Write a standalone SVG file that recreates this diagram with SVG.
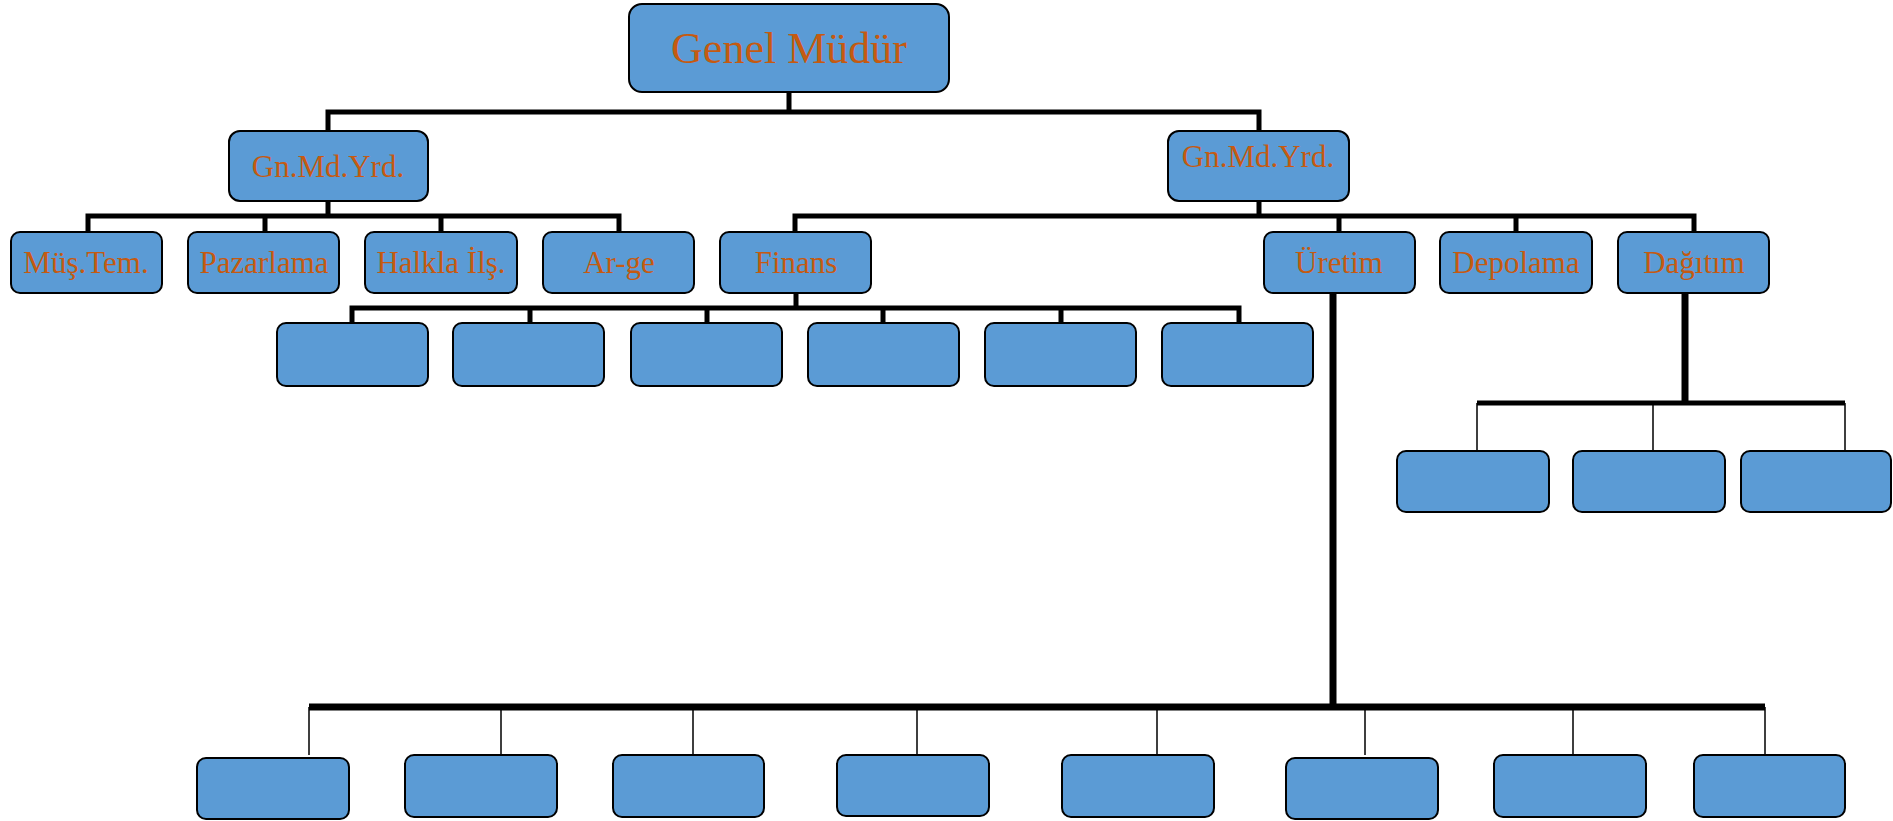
<svg xmlns="http://www.w3.org/2000/svg" width="1893" height="821" viewBox="0 0 1893 821">
  <style>
    .box { fill: #5B9BD5; stroke: #000; stroke-width: 2; }
    .lbl { font-family: "Liberation Serif", "Times New Roman", serif; fill: #C55A11; text-anchor: middle; }
    .big { font-size: 44px; }
    .mid { font-size: 31px; }
    .wire { fill: none; stroke: #000; stroke-linejoin: miter; stroke-linecap: butt; }
    .w5 { stroke-width: 5; }
    .w7 { stroke-width: 7; }
    .thin { stroke-width: 1.5; }
  </style>
  <rect width="1893" height="821" fill="#fff"/>

  <!-- connectors -->
  <g id="connectors">
    <path class="wire w5" d="M789,92 V112 M328,131 V112 H1259 V131"/>
    <path class="wire w5" d="M328,201 V216 M88,232 V216 H619 V232 M265,216 V232 M441,216 V232"/>
    <path class="wire w5" d="M1259,201 V216 M795,232 V216 H1694 V232 M1339,216 V232 M1516,216 V232"/>
    <path class="wire w5" d="M796,293 V308 M352,323 V308 H1239 V323 M530,308 V323 M707,308 V323 M883,308 V323 M1061,308 V323"/>
    <path class="wire w7" d="M1333,293 V707"/>
    <path class="wire w7" d="M309,707 H1765"/>
    <path class="wire thin" d="M309,707 V755 M501,707 V755 M693,707 V755 M917,707 V755 M1157,707 V755 M1365,707 V755 M1573,707 V755 M1765,707 V755"/>
    <path class="wire w7" d="M1685,293 V403"/>
    <path class="wire w5" d="M1477,403 H1845"/>
    <path class="wire thin" d="M1477,403 V451 M1653,403 V451 M1845,403 V451"/>
  </g>

  <!-- top -->
  <g id="genel-mudur">
    <rect class="box" x="629" y="4" width="320" height="88" rx="13"/>
    <text class="lbl big" x="789" y="63">Genel Müdür</text>
  </g>

  <!-- deputies -->
  <g id="gmy-left">
    <rect class="box" x="229" y="131" width="199" height="70" rx="11"/>
    <text class="lbl mid" x="328" y="177">Gn.Md.Yrd.</text>
  </g>
  <g id="gmy-right">
    <rect class="box" x="1168" y="131" width="181" height="70" rx="11"/>
    <text class="lbl mid" x="1258" y="167">Gn.Md.Yrd.</text>
  </g>

  <!-- departments -->
  <g id="mus-tem">
    <rect class="box" x="11" y="232" width="151" height="61" rx="9"/>
    <text class="lbl mid" x="86" y="273">Müş.Tem.</text>
  </g>
  <g id="pazarlama">
    <rect class="box" x="188" y="232" width="151" height="61" rx="9"/>
    <text class="lbl mid" x="264" y="273">Pazarlama</text>
  </g>
  <g id="halkla-ilis">
    <rect class="box" x="365" y="232" width="152" height="61" rx="9"/>
    <text class="lbl mid" x="441" y="273">Halkla İlş.</text>
  </g>
  <g id="ar-ge">
    <rect class="box" x="543" y="232" width="151" height="61" rx="9"/>
    <text class="lbl mid" x="619" y="273">Ar-ge</text>
  </g>
  <g id="finans">
    <rect class="box" x="720" y="232" width="151" height="61" rx="9"/>
    <text class="lbl mid" x="796" y="273">Finans</text>
  </g>
  <g id="uretim">
    <rect class="box" x="1264" y="232" width="151" height="61" rx="9"/>
    <text class="lbl mid" x="1339" y="273">Üretim</text>
  </g>
  <g id="depolama">
    <rect class="box" x="1440" y="232" width="152" height="61" rx="9"/>
    <text class="lbl mid" x="1516" y="273">Depolama</text>
  </g>
  <g id="dagitim">
    <rect class="box" x="1618" y="232" width="151" height="61" rx="9"/>
    <text class="lbl mid" x="1694" y="273">Dağıtım</text>
  </g>

  <!-- finance units -->
  <g id="finans-1"><rect class="box" x="277" y="323" width="151" height="63" rx="9"/></g>
  <g id="finans-2"><rect class="box" x="453" y="323" width="151" height="63" rx="9"/></g>
  <g id="finans-3"><rect class="box" x="631" y="323" width="151" height="63" rx="9"/></g>
  <g id="finans-4"><rect class="box" x="808" y="323" width="151" height="63" rx="9"/></g>
  <g id="finans-5"><rect class="box" x="985" y="323" width="151" height="63" rx="9"/></g>
  <g id="finans-6"><rect class="box" x="1162" y="323" width="151" height="63" rx="9"/></g>

  <!-- distribution units -->
  <g id="dagitim-1"><rect class="box" x="1397" y="451" width="152" height="61" rx="9"/></g>
  <g id="dagitim-2"><rect class="box" x="1573" y="451" width="152" height="61" rx="9"/></g>
  <g id="dagitim-3"><rect class="box" x="1741" y="451" width="150" height="61" rx="9"/></g>

  <!-- production units -->
  <g id="uretim-1"><rect class="box" x="197" y="758" width="152" height="61" rx="9"/></g>
  <g id="uretim-2"><rect class="box" x="405" y="755" width="152" height="62" rx="9"/></g>
  <g id="uretim-3"><rect class="box" x="613" y="755" width="151" height="62" rx="9"/></g>
  <g id="uretim-4"><rect class="box" x="837" y="755" width="152" height="61" rx="9"/></g>
  <g id="uretim-5"><rect class="box" x="1062" y="755" width="152" height="62" rx="9"/></g>
  <g id="uretim-6"><rect class="box" x="1286" y="758" width="152" height="61" rx="9"/></g>
  <g id="uretim-7"><rect class="box" x="1494" y="755" width="152" height="62" rx="9"/></g>
  <g id="uretim-8"><rect class="box" x="1694" y="755" width="151" height="62" rx="9"/></g>
</svg>
